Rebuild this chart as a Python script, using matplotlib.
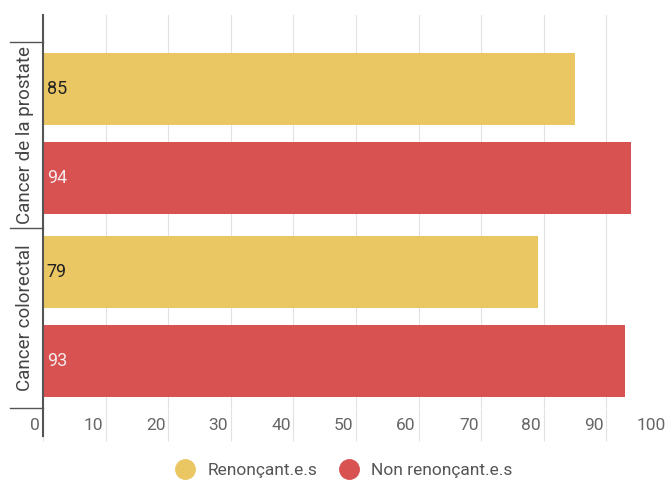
import matplotlib.pyplot as plt
import matplotlib.transforms as mtransforms
from matplotlib.lines import Line2D

plt.rcParams['font.family'] = ['Roboto', 'DejaVu Sans']

cancers = ['Cancer de la prostate', 'Cancer colorectal']
series = ['Renonçant.e.s', 'Non renonçant.e.s']
renoncants = [85, 79]
non_renoncants = [94, 93]
colors = ['#EBC764', '#D95252']
ticks = [0, 10, 20, 30, 40, 50, 60, 70, 80, 90, 100]

W, H = 667, 482
fig = plt.figure(figsize=(W / 100, H / 100), dpi=100)
top, bottom = 15, 408
ax = fig.add_axes([43 / W, 1 - bottom / H, 626 / W, (bottom - top) / H])

# bar positions (in units of ~89px)
ypos_r = [0, 2.056]
ypos_n = [1, 3.056]
h = 0.81
ax.barh(ypos_r, renoncants, height=h, color=colors[0], zorder=2)
ax.barh(ypos_n, non_renoncants, height=h, color=colors[1], zorder=2)

for y, v in zip(ypos_r, renoncants):
    ax.text(0.6, y, str(v), va='center', ha='left', fontsize=13, color='#222222', zorder=3)
for y, v in zip(ypos_n, non_renoncants):
    ax.text(0.6, y, str(v), va='center', ha='left', fontsize=13, color='#f4eaea', zorder=3)

ax.set_xlim(0, 100)
ax.set_ylim(3.58, -0.83)
ax.set_xticks(ticks)
ax.set_xticklabels([str(t) for t in ticks], fontsize=12.5, color='#666666', ha='right')
ax.tick_params(axis='x', length=24, width=0.8, color='#e2e2e2', pad=-17)
offset = mtransforms.ScaledTranslation(-2 / 72, 0, fig.dpi_scale_trans)
for lab in ax.get_xticklabels():
    lab.set_transform(lab.get_transform() + offset)
ax.set_yticks([])
ax.grid(axis='x', color='#e2e2e2', lw=0.8, zorder=0)
for s in ax.spines.values():
    s.set_visible(False)

# left axis line
trans_x = ax.get_xaxis_transform()
ax.add_line(Line2D([0, 0], [1.0, -0.07], transform=trans_x, color='#555555', lw=1.5, clip_on=False, zorder=4))

# category separators and labels
trans_y = ax.get_yaxis_transform()
for yv in [-0.53, 1.56, 3.58]:
    ax.add_line(Line2D([-0.053, 0], [yv, yv], transform=trans_y, color='#555555', lw=1, clip_on=False))
for yc, name in zip([0.52, 2.57], cancers):
    ax.text(-0.029, yc, name, transform=trans_y, rotation=90, va='center', ha='center',
            fontsize=13.5, color='#444444')

handles = [Line2D([], [], marker='o', ls='', markersize=14, color=c) for c in colors]
fig.legend(handles, series, loc='lower center', bbox_to_anchor=(0.51, -0.025), ncol=2,
           frameon=False, fontsize=12.5, labelcolor='#555555', handletextpad=0.3, columnspacing=0.8)

fig.savefig('out.png', dpi=100)
